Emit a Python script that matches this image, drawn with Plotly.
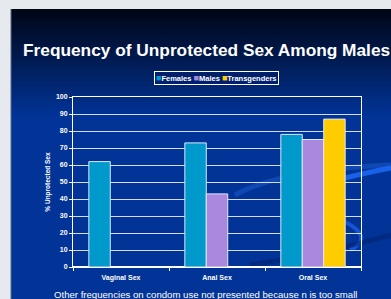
import plotly.graph_objects as go

categories = ["Vaginal Sex", "Anal Sex", "Oral Sex"]
series_names = ["Females", "Males", "Transgenders"]
females = [62, 73, 78]
males = [None, 43, 75]
transgenders = [None, None, 87]
colors = ["#0099cc", "#aa88dd", "#ffcc00"]
y_ticks = list(range(0, 101, 10))

W, H = 391, 299
L, R, T, B = 73, 30, 97, 32
PW, PH = W - L - R, H - T - B

def px(x):
    return (x - L) / PW

def py(y):
    return (H - B - y) / PH

fig = go.Figure()
for name, vals, col in zip(series_names, [females, males, transgenders], colors):
    fig.add_trace(go.Bar(
        x=categories, y=vals, name=name,
        marker=dict(color=col, line=dict(color="#dfe8f6", width=1)),
        showlegend=False,
    ))

shapes = []
# outer gray frame
shapes.append(dict(type="rect", xref="paper", yref="paper", x0=px(0), x1=px(W), y0=py(H), y1=py(0),
                   fillcolor="#e6e9ee", line_width=0, layer="below"))
# slide gradient
top_c = (0, 6, 22)
bot_c = (2, 52, 152)
y0 = 9
gend = 115
step = 3
y = y0
while y < gend:
    t = (y - y0) / (gend - y0)
    c = tuple(int(top_c[i] + (bot_c[i] - top_c[i]) * t) for i in range(3))
    shapes.append(dict(type="rect", xref="paper", yref="paper", x0=px(11), x1=px(W + 2),
                       y0=py(y + step + 0.5), y1=py(y), fillcolor="rgb(%d,%d,%d)" % c,
                       line_width=0, layer="below"))
    y += step
shapes.append(dict(type="rect", xref="paper", yref="paper", x0=px(11), x1=px(W + 2),
                   y0=py(H + 2), y1=py(gend), fillcolor="rgb(%d,%d,%d)" % bot_c,
                   line_width=0, layer="below"))
# slide left edge line
shapes.append(dict(type="line", xref="paper", yref="paper", x0=px(11), x1=px(11), y0=py(H), y1=py(9),
                   line=dict(color="#5a6a8a", width=1), layer="below"))

# decorative swooshes
def path(points):
    d = "M %f,%f" % (px(points[0][0]), py(points[0][1]))
    for i in range(1, len(points) - 1, 2):
        d += " Q %f,%f %f,%f" % (px(points[i][0]), py(points[i][1]), px(points[i + 1][0]), py(points[i + 1][1]))
    return d

shapes.append(dict(type="path", xref="paper", yref="paper",
                   path=path([(235, 195), (280, 170), (391, 165)]) ,
                   line=dict(color="rgba(40,110,230,0.35)", width=5), layer="below"))
shapes.append(dict(type="path", xref="paper", yref="paper",
                   path=path([(345, 178), (370, 172), (391, 168)]),
                   line=dict(color="rgba(30,110,255,0.8)", width=5), layer="below"))
shapes.append(dict(type="path", xref="paper", yref="paper",
                   path=path([(330, 215), (380, 235), (350, 250)]),
                   line=dict(color="rgba(30,100,240,0.7)", width=4), layer="below"))
shapes.append(dict(type="path", xref="paper", yref="paper",
                   path=path([(250, 265), (320, 255), (391, 235)]),
                   line=dict(color="rgba(0,30,100,0.45)", width=5), layer="below"))

legend_text = " ".join(
    "<span style='color:%s;font-size:9px'>■</span>%s" % (c, n) for n, c in zip(series_names, colors)
)

title_text = "<b>Frequency of Unprotected Sex Among Males</b>"

fig.update_layout(
    width=W, height=H,
    margin=dict(l=L, r=R, t=T, b=B, pad=0),
    paper_bgcolor="#e6e9ee",
    plot_bgcolor="rgba(0,0,0,0)",
    barmode="group", bargap=0.33, bargroupgap=0,
    shapes=shapes,
    font=dict(family="Liberation Sans, Arial", color="white"),
    annotations=[
        dict(text=title_text, xref="paper", yref="paper",
             x=px(206.5), y=py(50), showarrow=False, font=dict(size=17.3, color="white"),
             xanchor="center", yanchor="middle"),
        dict(text="<b>" + legend_text + "</b>", xref="paper", yref="paper",
             x=px(216.5), y=py(78), showarrow=False, font=dict(size=7.5, color="white"),
             xanchor="center", yanchor="middle", bordercolor="white", borderwidth=1,
             borderpad=1, bgcolor="rgba(0,30,110,0.6)"),
        dict(text="Other frequencies on condom use not presented because n is too small",
             xref="paper", yref="paper", x=px(205), y=py(294), showarrow=False,
             font=dict(size=9.6, color="white"), xanchor="center", yanchor="middle"),
    ],
    xaxis=dict(showline=True, linecolor="white", linewidth=1, mirror=True,
               tickson="boundaries", ticks="outside", ticklen=3, tickcolor="white",
               ticklabelstandoff=4,
               tickfont=dict(size=7, color="white", family="Liberation Sans, Arial"),
               showgrid=False),
    yaxis=dict(range=[0, 100], tickvals=y_ticks, showline=True, linecolor="white", linewidth=1,
               mirror=True, ticks="outside", ticklen=3, tickcolor="white",
               gridcolor="rgba(235,240,255,0.9)", gridwidth=1,
               tickfont=dict(size=7, color="white", family="Liberation Sans, Arial"),
               title=dict(text="<b>% Unprotected Sex</b>", font=dict(size=6.5, color="white"),
                          standoff=4)),
)
fig.update_xaxes(ticktext=["<b>%s</b>" % c for c in categories], tickvals=categories)
fig.update_yaxes(ticktext=["<b>%d</b>" % v for v in y_ticks])

fig.write_html("out.html", config={"displayModeBar": False},
               post_script="document.body.style.margin='0';document.body.style.overflow='hidden';")
